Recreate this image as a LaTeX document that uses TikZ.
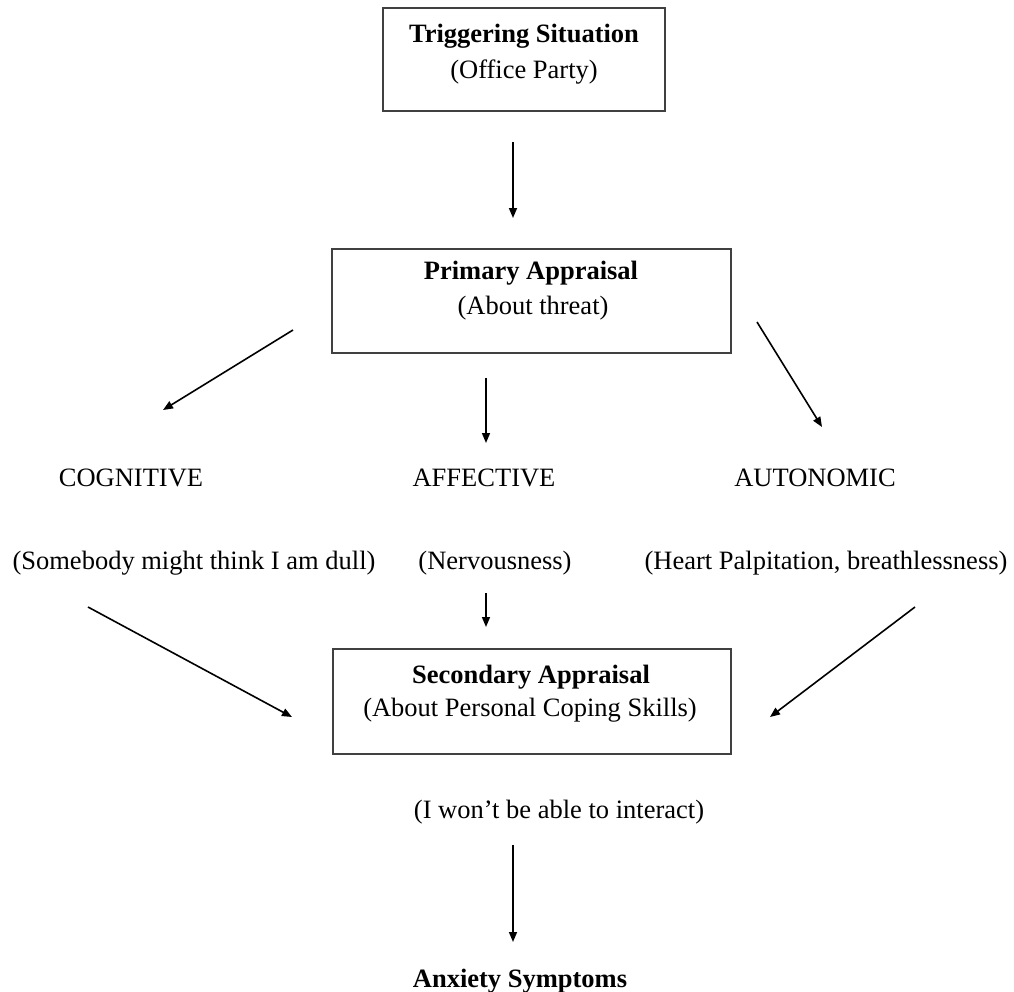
\documentclass[tikz,border=0pt]{standalone}
\usepackage{fontspec}
\setmainfont{Liberation Serif}
\usetikzlibrary{arrows.meta}
\begin{document}
\begin{tikzpicture}[x=1pt,y=-1pt,
  box/.style={draw=black!75,line width=1.8pt,rectangle,inner sep=0pt},
  txt/.style={anchor=base,inner sep=0pt,font=\fontsize{26.5pt}{30pt}\selectfont},
  btxt/.style={txt,font=\fontsize{26.5pt}{30pt}\selectfont\bfseries},
  arr/.style={line width=1.6pt,-{Triangle[length=10pt,width=8pt]}}]
\useasboundingbox (0,0) rectangle (1014,991);
% boxes
\node[box,minimum width=282pt,minimum height=103pt] (b1) at (524,59.5) {};
\node[box,minimum width=399pt,minimum height=104pt] (b2) at (531.5,301) {};
\node[box,minimum width=398pt,minimum height=105pt] (b3) at (532,701.5) {};
% box texts
\node[btxt] (t1) at (524,42.5) {Triggering Situation};
\node[txt] (s1) at (524,78) {(Office Party)};
\node[btxt] (t2) at (531,279) {Primary Appraisal};
\node[txt] (s2) at (533,314) {(About threat)};
\node[btxt] (t3) at (531,683) {Secondary Appraisal};
\node[txt] (s3) at (530,716) {(About Personal Coping Skills)};
% category texts
\node[txt] (cog) at (131,486) {COGNITIVE};
\node[txt] (aff) at (484,486) {AFFECTIVE};
\node[txt] (aut) at (815,486) {AUTONOMIC};
\node[txt] (cogx) at (194,569) {(Somebody might think I am dull)};
\node[txt] (affx) at (495,569) {(Nervousness)};
\node[txt] (autx) at (826,569) {(Heart Palpitation, breathlessness)};
\node[txt] (wont) at (559,818) {(I won’t be able to interact)};
\node[btxt] (anx) at (520,987) {Anxiety Symptoms};
% arrow end points
\coordinate (a1s) at (513,142); \coordinate (a1e) at (513,218);
\coordinate (a2s) at (293,330); \coordinate (a2e) at (163,410);
\coordinate (a3s) at (486,378); \coordinate (a3e) at (486,443);
\coordinate (a4s) at (757,322); \coordinate (a4e) at (822,427);
\coordinate (a5s) at (88,607);  \coordinate (a5e) at (292,717);
\coordinate (a6s) at (486,593); \coordinate (a6e) at (486,627);
\coordinate (a7s) at (915,607); \coordinate (a7e) at (770,717);
\coordinate (a8s) at (513,845); \coordinate (a8e) at (513,942);
\draw[arr] (a1s) -- (a1e);
\draw[arr] (a2s) -- (a2e);
\draw[arr] (a3s) -- (a3e);
\draw[arr] (a4s) -- (a4e);
\draw[arr] (a5s) -- (a5e);
\draw[arr] (a6s) -- (a6e);
\draw[arr] (a7s) -- (a7e);
\draw[arr] (a8s) -- (a8e);
\end{tikzpicture}
\end{document}
